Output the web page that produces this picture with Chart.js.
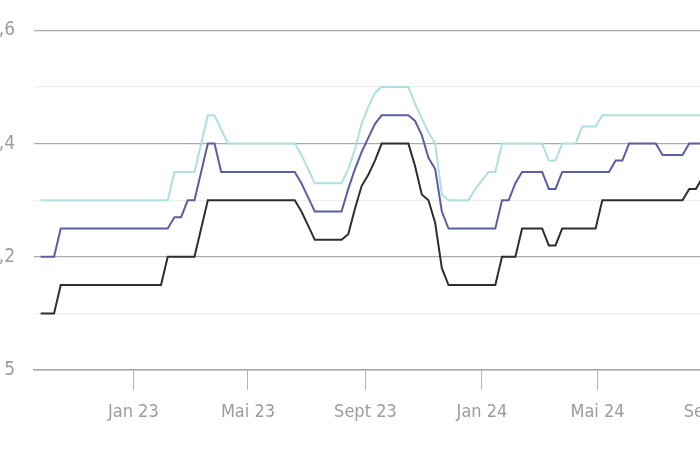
<!DOCTYPE html>
<html><head><meta charset="utf-8">
<script src="https://cdn.jsdelivr.net/npm/chart.js@4"></script>
<style>
html,body{margin:0;padding:0;overflow:hidden;background:#fff;width:700px;height:450px}
#wrap{position:absolute;left:0;top:0;width:760px;height:450px}
</style></head>
<body><div id="wrap"><canvas id="c"></canvas></div>
<script>
// ---- data ----
const startDate = '2022-09-26';   // first weekly observation
const weekCount = 100;
const blackSeries = [1.10,1.10,1.10,
  1.15,1.15,1.15,1.15,1.15,1.15,1.15,1.15,1.15,1.15,1.15,1.15,1.15,1.15,1.15,1.15,
  1.20,1.20,1.20,1.20,1.20,
  1.25,
  1.30,1.30,1.30,1.30,1.30,1.30,1.30,1.30,1.30,1.30,1.30,1.30,1.30,1.30,
  1.28,1.255,
  1.23,1.23,1.23,1.23,1.23,
  1.24,1.285,1.325,1.345,1.37,1.40,
  1.40,1.40,1.40,1.40,
  1.36,1.31,1.30,1.26,1.18,1.15,
  1.15,1.15,1.15,1.15,1.15,1.15,1.15,
  1.20,1.20,1.20,
  1.25,1.25,1.25,1.25,
  1.22,1.22,
  1.25,1.25,1.25,1.25,1.25,1.25,
  1.30,1.30,1.30,1.30,1.30,1.30,1.30,1.30,1.30,1.30,1.30,1.30,1.30,
  1.32,1.32,
  1.34];
const blueSeries = [1.20,1.20,1.20,
  1.25,1.25,1.25,1.25,1.25,1.25,1.25,1.25,1.25,1.25,1.25,1.25,1.25,1.25,1.25,1.25,1.25,
  1.27,1.27,
  1.30,1.30,
  1.35,
  1.40,1.40,
  1.35,1.35,1.35,1.35,1.35,1.35,1.35,1.35,1.35,1.35,1.35,1.35,
  1.33,1.305,
  1.28,1.28,1.28,1.28,1.28,
  1.32,1.355,1.385,1.41,1.435,1.45,
  1.45,1.45,1.45,1.45,
  1.44,1.415,1.375,1.355,1.28,1.25,
  1.25,1.25,1.25,1.25,1.25,1.25,1.25,
  1.30,1.30,
  1.33,
  1.35,1.35,1.35,1.35,
  1.32,1.32,
  1.35,1.35,1.35,1.35,1.35,1.35,1.35,1.35,
  1.37,1.37,
  1.40,1.40,1.40,1.40,1.40,
  1.38,1.38,1.38,1.38,
  1.40,1.40,1.40];
const cyanSeries = [1.30,1.30,1.30,1.30,1.30,1.30,1.30,1.30,1.30,1.30,1.30,1.30,1.30,1.30,1.30,1.30,1.30,1.30,1.30,1.30,
  1.35,1.35,1.35,1.35,
  1.40,
  1.45,1.45,
  1.425,
  1.40,1.40,1.40,1.40,1.40,1.40,1.40,1.40,1.40,1.40,1.40,
  1.38,1.355,
  1.33,1.33,1.33,1.33,1.33,
  1.355,1.39,1.435,1.465,1.49,1.50,
  1.50,1.50,1.50,1.50,
  1.47,1.445,1.42,1.40,1.31,1.30,
  1.30,1.30,1.30,
  1.32,1.335,
  1.35,1.35,
  1.40,1.40,1.40,1.40,1.40,1.40,1.40,
  1.37,1.37,
  1.40,1.40,1.40,
  1.43,1.43,1.43,
  1.45,1.45,1.45,1.45,1.45,1.45,1.45,1.45,1.45,1.45,1.45,1.45,1.45,1.45,1.45,1.45];
const yTickText = {10:'5', 12:',2', 14:',4', 16:',6'};
const xTickDates = ['2023-01-01','2023-05-01','2023-09-01','2024-01-01','2024-05-01','2024-09-01'];
const xTickLabels = ['Jan 23','Mai 23','Sept 23','Jan 24','Mai 24','Sept 24'];
const axisStart = '2022-09-19';
const axisEnd = '2024-10-16';

// ---- helpers ----
function dayOf(s){const p=s.split('-').map(Number);return (Date.UTC(p[0],p[1]-1,p[2])-Date.UTC(2023,0,1))/86400000;}
const startDay = dayOf(startDate);
const weekDays = [];
for(let i=0;i<weekCount;i++) weekDays.push(startDay+7*i);
const pts = arr => arr.map((v,i)=>({x:weekDays[i], y:v}));

const FONT = "'Liberation Sans Narrow','DejaVu Sans Condensed','Roboto',sans-serif";
const TXT = '#9c9c9c';

new Chart(document.getElementById('c'), {
  type:'line',
  data:{datasets:[
    {data:pts(cyanSeries), borderColor:'#ade0e3', borderWidth:2},
    {data:pts(blueSeries), borderColor:'#5a5ea8', borderWidth:2},
    {data:pts(blackSeries), borderColor:'#2e2e2e', borderWidth:2}
  ]},
  options:{
    responsive:true, maintainAspectRatio:false, animation:false,
    elements:{point:{radius:0,hoverRadius:0}, line:{tension:0}},
    layout:{padding:{top:30,right:2,left:0,bottom:0}},
    plugins:{legend:{display:false}, tooltip:{enabled:false}},
    scales:{
      x:{type:'linear', min:dayOf(axisStart), max:dayOf(axisEnd),
        afterBuildTicks:s=>{s.ticks = xTickDates.map(d=>({value:dayOf(d)}));},
        afterFit:s=>{s.height=80;},
        ticks:{autoSkip:false, maxRotation:0, color:TXT, padding:12,
          font:{family:FONT,size:18},
          callback:(v,i)=>xTickLabels[i]},
        grid:{drawOnChartArea:false, drawTicks:true, tickLength:20, color:'#b5b5b5', lineWidth:1},
        border:{display:true, color:'#a8a8a8', width:1.5}
      },
      y:{min:1.0, max:1.6,
        afterFit:s=>{s.width=34;},
        ticks:{stepSize:0.1, color:TXT, padding:19, font:{family:FONT,size:19},
          callback:v=>yTickText[Math.round(v*10)] || ''},
        grid:{drawTicks:false, lineWidth:1.2,
          color:c=>Math.round(c.tick.value*10)%2===0 ? '#ababab' : '#eeeeee'},
        border:{display:false}
      }
    }
  }
});
</script></body></html>
